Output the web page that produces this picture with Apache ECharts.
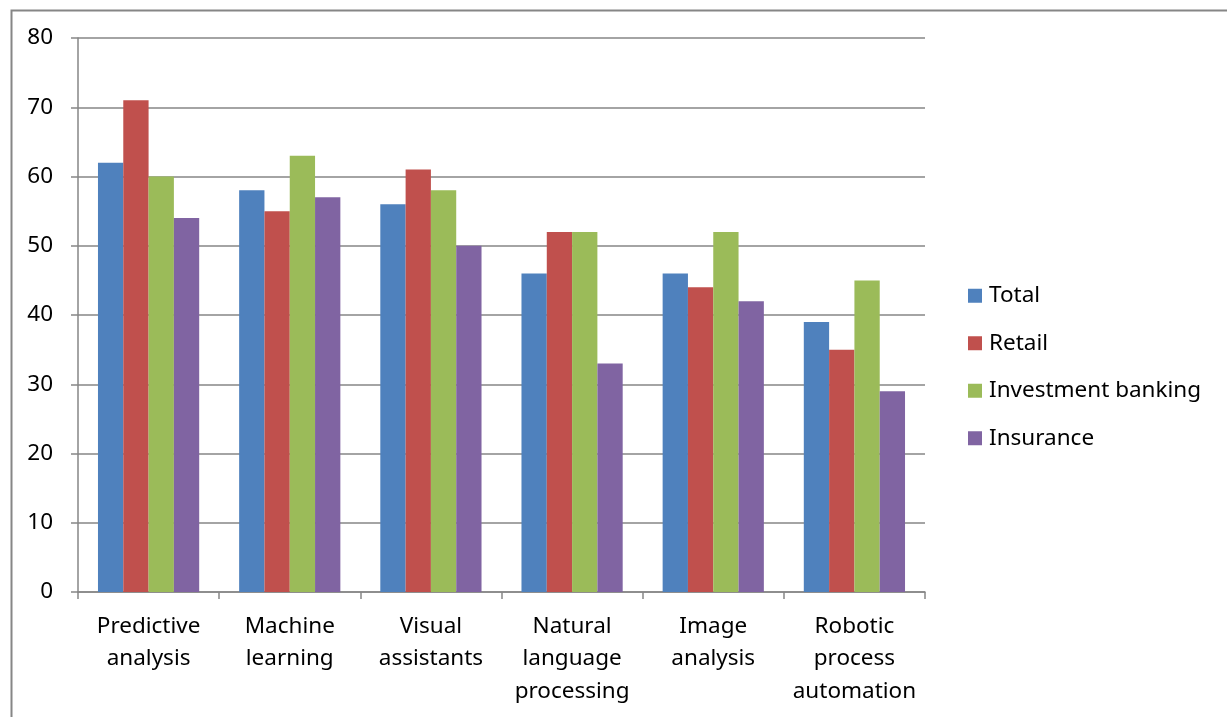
<!DOCTYPE html>
<html><head><meta charset="utf-8">
<script src="https://cdn.jsdelivr.net/npm/echarts@6/dist/echarts.min.js"></script>
<style>html,body{margin:0;padding:0;background:#fff}#c{width:1227px;height:717px}</style>
</head><body><div id="c"></div>
<script>
const categories = ['Predictive\nanalysis','Machine\nlearning','Visual\nassistants','Natural\nlanguage\nprocessing','Image\nanalysis','Robotic\nprocess\nautomation'];
const total = [62,58,56,46,46,39];
const retail = [71,55,61,52,44,35];
const investmentBanking = [60,63,58,52,52,45];
const insurance = [54,57,50,33,42,29];
const seriesNames = ['Total','Retail','Investment banking','Insurance'];
const colors = ['#4F81BD','#C0504D','#9BBB59','#8064A2'];
const FONT = 'Noto Sans';
const FS = 22.5;
const chart = echarts.init(document.getElementById('c'), null, {renderer:'canvas'});
const data = [total, retail, investmentBanking, insurance];
chart.setOption({
  animation:false,
  color: colors,
  textStyle:{fontFamily:FONT},
  graphic:[{type:'rect',left:9,top:8,shape:{width:1240,height:730},style:{fill:'none',stroke:'#868686',lineWidth:2},silent:true}],
  grid:{left:78,right:302,top:38,bottom:125,containLabel:false},
  legend:{orient:'vertical',left:968,top:284,padding:0,itemWidth:14,itemHeight:14,itemGap:24,icon:'rect',
    textStyle:{fontSize:FS,color:'#000',fontFamily:FONT,lineHeight:23.5,padding:[0,0,0,2]}},
  xAxis:{type:'category',data:categories,
    axisLine:{lineStyle:{color:'#868686',width:1.5}},
    axisTick:{show:true,length:7,lineStyle:{color:'#868686',width:1.5}},
    axisLabel:{fontSize:FS,color:'#000',lineHeight:32.5,margin:18,fontFamily:FONT,interval:0}},
  yAxis:{type:'value',min:0,max:80,interval:10,
    axisLine:{show:true,lineStyle:{color:'#868686',width:1.5}},
    axisTick:{show:true,length:7,lineStyle:{color:'#868686',width:1.5}},
    splitLine:{lineStyle:{color:'#868686',width:1.5}},
    axisLabel:{fontSize:FS,color:'#000',margin:25,fontFamily:FONT}},
  series: seriesNames.map((n,i)=>({name:n,type:'bar',data:data[i],barGap:'0%',barCategoryGap:'28.3%',
    itemStyle:{color:colors[i]}}))
});
</script></body></html>
